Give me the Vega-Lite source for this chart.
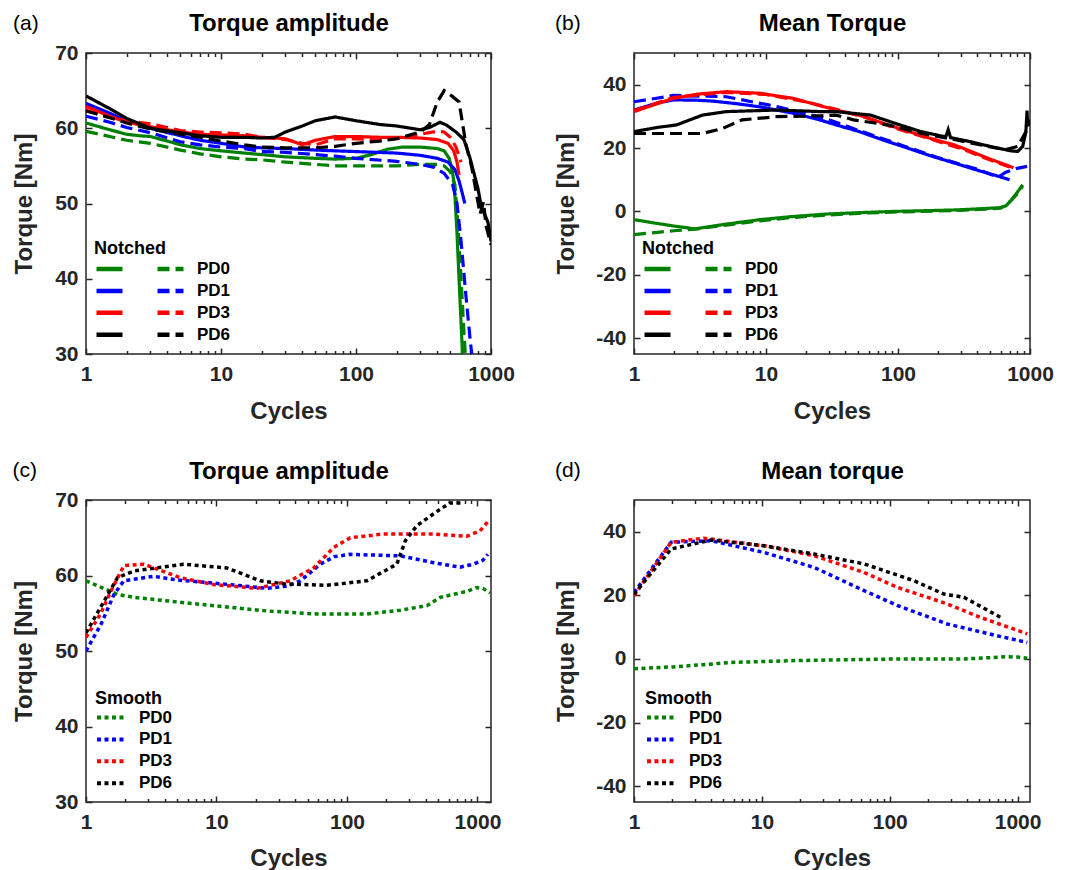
{
  "$schema": "https://vega.github.io/schema/vega-lite/v6.json",
  "padding": {"left": 11, "top": 10, "right": 0, "bottom": 0},
  "autosize": {"type": "pad"},
  "config": {
    "font": "Liberation Sans",
    "view": {"stroke": "#262626", "strokeWidth": 1.5},
    "axis": {"domain": false, "grid": false, "labelFont": "Liberation Sans", "labelFontSize": 21, "labelFontWeight": "bold", "labelColor": "#262626", "titleFont": "Liberation Sans", "titleFontSize": 24, "titleFontWeight": "bold", "titleColor": "#262626", "tickColor": "#262626", "tickWidth": 1.5, "labelOverlap": false, "labelFlush": false},
    "legend": {"labelFont": "Liberation Sans", "titleFont": "Liberation Sans", "labelFontSize": 17, "labelFontWeight": "bold", "titleFontSize": 18, "titleFontWeight": "bold", "labelColor": "black", "titleColor": "black", "padding": 0}
  },
  "bounds": "flush",
  "columns": 2,
  "spacing": {"row": 146, "column": 143},
  "resolve": {"scale": {"x": "independent", "y": "independent", "color": "independent", "strokeDash": "independent"}, "legend": {"color": "independent", "strokeDash": "independent"}, "axis": {"x": "independent", "y": "independent"}},
  "datasets": {
    "a": [
      {"s":"PD0 solid","x":1,"v":60.7},{"s":"PD0 solid","x":1.5,"v":59.8},{"s":"PD0 solid","x":2,"v":59.2},{"s":"PD0 solid","x":2.5,"v":59.0},{"s":"PD0 solid","x":3,"v":58.9},{"s":"PD0 solid","x":4,"v":58.3},{"s":"PD0 solid","x":5,"v":57.8},{"s":"PD0 solid","x":7,"v":57.3},{"s":"PD0 solid","x":10,"v":57.0},{"s":"PD0 solid","x":15,"v":56.7},{"s":"PD0 solid","x":20,"v":56.5},{"s":"PD0 solid","x":30,"v":56.2},{"s":"PD0 solid","x":50,"v":56.0},{"s":"PD0 solid","x":70,"v":55.9},{"s":"PD0 solid","x":100,"v":56.0},{"s":"PD0 solid","x":130,"v":56.5},{"s":"PD0 solid","x":170,"v":57.2},{"s":"PD0 solid","x":220,"v":57.5},{"s":"PD0 solid","x":300,"v":57.5},{"s":"PD0 solid","x":400,"v":57.3},{"s":"PD0 solid","x":450,"v":57.0},{"s":"PD0 solid","x":490,"v":56.0},{"s":"PD0 solid","x":515,"v":54.5},{"s":"PD0 solid","x":535,"v":52.5},{"s":"PD0 solid","x":560,"v":46},{"s":"PD0 solid","x":590,"v":37},{"s":"PD0 solid","x":615,"v":30},{"s":"PD0 solid","x":630,"v":27},
      {"s":"PD0 dashed","x":1,"v":59.6},{"s":"PD0 dashed","x":1.5,"v":58.9},{"s":"PD0 dashed","x":2,"v":58.4},{"s":"PD0 dashed","x":3,"v":58.0},{"s":"PD0 dashed","x":5,"v":57.1},{"s":"PD0 dashed","x":7,"v":56.6},{"s":"PD0 dashed","x":10,"v":56.2},{"s":"PD0 dashed","x":15,"v":55.9},{"s":"PD0 dashed","x":20,"v":55.8},{"s":"PD0 dashed","x":30,"v":55.5},{"s":"PD0 dashed","x":50,"v":55.2},{"s":"PD0 dashed","x":70,"v":55.0},{"s":"PD0 dashed","x":100,"v":55.0},{"s":"PD0 dashed","x":150,"v":55.0},{"s":"PD0 dashed","x":200,"v":55.0},{"s":"PD0 dashed","x":300,"v":55.2},{"s":"PD0 dashed","x":400,"v":55.2},{"s":"PD0 dashed","x":450,"v":55.0},{"s":"PD0 dashed","x":500,"v":54.2},{"s":"PD0 dashed","x":540,"v":52.5},{"s":"PD0 dashed","x":570,"v":47},{"s":"PD0 dashed","x":600,"v":40},{"s":"PD0 dashed","x":630,"v":33},{"s":"PD0 dashed","x":645,"v":30},{"s":"PD0 dashed","x":660,"v":27},
      {"s":"PD1 solid","x":1,"v":63.3},{"s":"PD1 solid","x":1.5,"v":62.0},{"s":"PD1 solid","x":2,"v":61.0},{"s":"PD1 solid","x":3,"v":60.0},{"s":"PD1 solid","x":5,"v":59.0},{"s":"PD1 solid","x":7,"v":58.4},{"s":"PD1 solid","x":10,"v":58.0},{"s":"PD1 solid","x":15,"v":57.5},{"s":"PD1 solid","x":20,"v":57.4},{"s":"PD1 solid","x":30,"v":57.3},{"s":"PD1 solid","x":50,"v":57.1},{"s":"PD1 solid","x":70,"v":57.0},{"s":"PD1 solid","x":100,"v":56.9},{"s":"PD1 solid","x":200,"v":56.7},{"s":"PD1 solid","x":300,"v":56.4},{"s":"PD1 solid","x":400,"v":56.0},{"s":"PD1 solid","x":480,"v":55.5},{"s":"PD1 solid","x":540,"v":54.5},{"s":"PD1 solid","x":580,"v":53.0},{"s":"PD1 solid","x":610,"v":51.5},{"s":"PD1 solid","x":640,"v":50.0},
      {"s":"PD1 dashed","x":1,"v":61.6},{"s":"PD1 dashed","x":1.5,"v":60.8},{"s":"PD1 dashed","x":2,"v":60.1},{"s":"PD1 dashed","x":3,"v":59.4},{"s":"PD1 dashed","x":5,"v":58.2},{"s":"PD1 dashed","x":7,"v":57.8},{"s":"PD1 dashed","x":10,"v":57.5},{"s":"PD1 dashed","x":15,"v":57.3},{"s":"PD1 dashed","x":20,"v":56.9},{"s":"PD1 dashed","x":30,"v":56.8},{"s":"PD1 dashed","x":50,"v":56.5},{"s":"PD1 dashed","x":70,"v":56.3},{"s":"PD1 dashed","x":100,"v":56.0},{"s":"PD1 dashed","x":200,"v":55.6},{"s":"PD1 dashed","x":300,"v":55.2},{"s":"PD1 dashed","x":380,"v":54.8},{"s":"PD1 dashed","x":450,"v":54.0},{"s":"PD1 dashed","x":520,"v":52.5},{"s":"PD1 dashed","x":560,"v":50},{"s":"PD1 dashed","x":600,"v":45},{"s":"PD1 dashed","x":650,"v":38},{"s":"PD1 dashed","x":700,"v":32},{"s":"PD1 dashed","x":730,"v":29},
      {"s":"PD3 solid","x":1,"v":62.9},{"s":"PD3 solid","x":1.5,"v":61.6},{"s":"PD3 solid","x":2,"v":60.8},{"s":"PD3 solid","x":3,"v":60.2},{"s":"PD3 solid","x":5,"v":59.5},{"s":"PD3 solid","x":7,"v":59.2},{"s":"PD3 solid","x":10,"v":59.1},{"s":"PD3 solid","x":15,"v":59.0},{"s":"PD3 solid","x":20,"v":58.8},{"s":"PD3 solid","x":25,"v":58.7},{"s":"PD3 solid","x":30,"v":58.6},{"s":"PD3 solid","x":40,"v":57.8},{"s":"PD3 solid","x":50,"v":58.4},{"s":"PD3 solid","x":70,"v":58.9},{"s":"PD3 solid","x":100,"v":58.9},{"s":"PD3 solid","x":150,"v":58.8},{"s":"PD3 solid","x":200,"v":58.8},{"s":"PD3 solid","x":300,"v":58.7},{"s":"PD3 solid","x":400,"v":58.5},{"s":"PD3 solid","x":480,"v":58.0},{"s":"PD3 solid","x":530,"v":57.0},{"s":"PD3 solid","x":560,"v":55.5},{"s":"PD3 solid","x":580,"v":53.8},
      {"s":"PD3 dashed","x":1,"v":62.4},{"s":"PD3 dashed","x":1.5,"v":61.5},{"s":"PD3 dashed","x":2,"v":61.0},{"s":"PD3 dashed","x":3,"v":60.6},{"s":"PD3 dashed","x":5,"v":59.7},{"s":"PD3 dashed","x":7,"v":59.5},{"s":"PD3 dashed","x":10,"v":59.4},{"s":"PD3 dashed","x":15,"v":59.2},{"s":"PD3 dashed","x":20,"v":58.8},{"s":"PD3 dashed","x":30,"v":58.5},{"s":"PD3 dashed","x":40,"v":58.0},{"s":"PD3 dashed","x":50,"v":57.8},{"s":"PD3 dashed","x":70,"v":58.6},{"s":"PD3 dashed","x":100,"v":58.6},{"s":"PD3 dashed","x":150,"v":58.4},{"s":"PD3 dashed","x":200,"v":58.6},{"s":"PD3 dashed","x":250,"v":58.9},{"s":"PD3 dashed","x":300,"v":59.2},{"s":"PD3 dashed","x":400,"v":59.6},{"s":"PD3 dashed","x":450,"v":59.5},{"s":"PD3 dashed","x":500,"v":58.8},{"s":"PD3 dashed","x":550,"v":57.5},{"s":"PD3 dashed","x":600,"v":55.5},
      {"s":"PD6 solid","x":1,"v":64.3},{"s":"PD6 solid","x":1.5,"v":62.6},{"s":"PD6 solid","x":2,"v":61.3},{"s":"PD6 solid","x":3,"v":60.0},{"s":"PD6 solid","x":5,"v":59.4},{"s":"PD6 solid","x":7,"v":59.0},{"s":"PD6 solid","x":10,"v":58.8},{"s":"PD6 solid","x":15,"v":58.8},{"s":"PD6 solid","x":20,"v":58.7},{"s":"PD6 solid","x":25,"v":58.8},{"s":"PD6 solid","x":30,"v":59.5},{"s":"PD6 solid","x":40,"v":60.3},{"s":"PD6 solid","x":50,"v":61.0},{"s":"PD6 solid","x":70,"v":61.5},{"s":"PD6 solid","x":100,"v":61.0},{"s":"PD6 solid","x":150,"v":60.5},{"s":"PD6 solid","x":200,"v":60.3},{"s":"PD6 solid","x":300,"v":59.8},{"s":"PD6 solid","x":350,"v":60.1},{"s":"PD6 solid","x":420,"v":60.8},{"s":"PD6 solid","x":470,"v":60.4},{"s":"PD6 solid","x":550,"v":59.5},{"s":"PD6 solid","x":630,"v":58.5},{"s":"PD6 solid","x":700,"v":56.0},{"s":"PD6 solid","x":800,"v":52.0},{"s":"PD6 solid","x":850,"v":49.5},{"s":"PD6 solid","x":900,"v":48.5},{"s":"PD6 solid","x":950,"v":47.5},{"s":"PD6 solid","x":1000,"v":45.0},
      {"s":"PD6 dashed","x":1,"v":62.3},{"s":"PD6 dashed","x":1.5,"v":61.4},{"s":"PD6 dashed","x":2,"v":60.7},{"s":"PD6 dashed","x":3,"v":59.9},{"s":"PD6 dashed","x":5,"v":59.2},{"s":"PD6 dashed","x":7,"v":58.8},{"s":"PD6 dashed","x":10,"v":58.3},{"s":"PD6 dashed","x":15,"v":57.8},{"s":"PD6 dashed","x":20,"v":57.5},{"s":"PD6 dashed","x":30,"v":57.4},{"s":"PD6 dashed","x":50,"v":57.4},{"s":"PD6 dashed","x":70,"v":57.6},{"s":"PD6 dashed","x":100,"v":58.0},{"s":"PD6 dashed","x":150,"v":58.3},{"s":"PD6 dashed","x":200,"v":58.6},{"s":"PD6 dashed","x":300,"v":59.5},{"s":"PD6 dashed","x":350,"v":60.5},{"s":"PD6 dashed","x":400,"v":63.5},{"s":"PD6 dashed","x":450,"v":65.0},{"s":"PD6 dashed","x":520,"v":64.2},{"s":"PD6 dashed","x":580,"v":63.5},{"s":"PD6 dashed","x":650,"v":58.0},{"s":"PD6 dashed","x":720,"v":54.8},{"s":"PD6 dashed","x":830,"v":48.6},{"s":"PD6 dashed","x":880,"v":50.2},{"s":"PD6 dashed","x":920,"v":47.0},{"s":"PD6 dashed","x":1000,"v":44.5}
    ],
    "b": [
      {"s":"PD0 solid","x":1,"v":-2.6},{"s":"PD0 solid","x":1.5,"v":-3.8},{"s":"PD0 solid","x":2,"v":-4.6},{"s":"PD0 solid","x":2.9,"v":-5.5},{"s":"PD0 solid","x":5,"v":-4.0},{"s":"PD0 solid","x":9,"v":-2.6},{"s":"PD0 solid","x":15,"v":-1.7},{"s":"PD0 solid","x":28,"v":-0.85},{"s":"PD0 solid","x":50,"v":-0.4},{"s":"PD0 solid","x":91,"v":0.0},{"s":"PD0 solid","x":150,"v":0.2},{"s":"PD0 solid","x":290,"v":0.5},{"s":"PD0 solid","x":450,"v":0.9},{"s":"PD0 solid","x":600,"v":1.2},{"s":"PD0 solid","x":660,"v":1.8},{"s":"PD0 solid","x":720,"v":3.5},{"s":"PD0 solid","x":800,"v":6.0},{"s":"PD0 solid","x":880,"v":8.4},
      {"s":"PD0 dashed","x":1,"v":-7.3},{"s":"PD0 dashed","x":1.5,"v":-6.6},{"s":"PD0 dashed","x":2,"v":-6.1},{"s":"PD0 dashed","x":2.9,"v":-5.6},{"s":"PD0 dashed","x":5,"v":-4.3},{"s":"PD0 dashed","x":9,"v":-3.0},{"s":"PD0 dashed","x":15,"v":-2.0},{"s":"PD0 dashed","x":28,"v":-1.2},{"s":"PD0 dashed","x":50,"v":-0.6},{"s":"PD0 dashed","x":91,"v":-0.2},{"s":"PD0 dashed","x":150,"v":0.0},{"s":"PD0 dashed","x":290,"v":0.3},{"s":"PD0 dashed","x":450,"v":0.7},{"s":"PD0 dashed","x":600,"v":1.0},{"s":"PD0 dashed","x":700,"v":3.0},{"s":"PD0 dashed","x":800,"v":5.5},{"s":"PD0 dashed","x":880,"v":8.0},
      {"s":"PD1 solid","x":1,"v":32.0},{"s":"PD1 solid","x":1.5,"v":34.2},{"s":"PD1 solid","x":2,"v":35.2},{"s":"PD1 solid","x":3,"v":35.1},{"s":"PD1 solid","x":4,"v":34.8},{"s":"PD1 solid","x":6,"v":34.0},{"s":"PD1 solid","x":9,"v":33.0},{"s":"PD1 solid","x":16,"v":31.0},{"s":"PD1 solid","x":25,"v":29.0},{"s":"PD1 solid","x":34,"v":27.3},{"s":"PD1 solid","x":50,"v":25.3},{"s":"PD1 solid","x":84,"v":22.0},{"s":"PD1 solid","x":100,"v":21.0},{"s":"PD1 solid","x":178,"v":17.5},{"s":"PD1 solid","x":266,"v":15.3},{"s":"PD1 solid","x":400,"v":13.0},{"s":"PD1 solid","x":535,"v":11.5},{"s":"PD1 solid","x":700,"v":10.0},
      {"s":"PD1 dashed","x":1,"v":34.6},{"s":"PD1 dashed","x":2,"v":36.6},{"s":"PD1 dashed","x":5,"v":36.2},{"s":"PD1 dashed","x":12,"v":33.1},{"s":"PD1 dashed","x":28,"v":29.4},{"s":"PD1 dashed","x":50,"v":25.6},{"s":"PD1 dashed","x":100,"v":21.3},{"s":"PD1 dashed","x":200,"v":17.0},{"s":"PD1 dashed","x":400,"v":13.3},{"s":"PD1 dashed","x":560,"v":11.0},{"s":"PD1 dashed","x":600,"v":11.3},{"s":"PD1 dashed","x":650,"v":12.3},{"s":"PD1 dashed","x":800,"v":13.6},{"s":"PD1 dashed","x":950,"v":14.2},
      {"s":"PD3 solid","x":1,"v":31.5},{"s":"PD3 solid","x":1.5,"v":34.0},{"s":"PD3 solid","x":2,"v":35.7},{"s":"PD3 solid","x":3,"v":37.0},{"s":"PD3 solid","x":5,"v":37.8},{"s":"PD3 solid","x":9,"v":37.3},{"s":"PD3 solid","x":16,"v":35.7},{"s":"PD3 solid","x":34,"v":32.0},{"s":"PD3 solid","x":56,"v":29.9},{"s":"PD3 solid","x":84,"v":27.3},{"s":"PD3 solid","x":100,"v":26.3},{"s":"PD3 solid","x":178,"v":23.0},{"s":"PD3 solid","x":266,"v":21.0},{"s":"PD3 solid","x":317,"v":19.8},{"s":"PD3 solid","x":500,"v":16.5},{"s":"PD3 solid","x":750,"v":13.8},
      {"s":"PD3 dashed","x":1,"v":31.8},{"s":"PD3 dashed","x":2,"v":36.0},{"s":"PD3 dashed","x":5,"v":37.6},{"s":"PD3 dashed","x":10,"v":36.9},{"s":"PD3 dashed","x":20,"v":34.6},{"s":"PD3 dashed","x":34,"v":32.2},{"s":"PD3 dashed","x":56,"v":29.7},{"s":"PD3 dashed","x":100,"v":26.0},{"s":"PD3 dashed","x":178,"v":22.8},{"s":"PD3 dashed","x":317,"v":19.5},{"s":"PD3 dashed","x":500,"v":16.2},{"s":"PD3 dashed","x":700,"v":14.0},
      {"s":"PD6 solid","x":1,"v":25.2},{"s":"PD6 solid","x":1.5,"v":26.5},{"s":"PD6 solid","x":2.1,"v":27.3},{"s":"PD6 solid","x":3.3,"v":30.4},{"s":"PD6 solid","x":5,"v":31.5},{"s":"PD6 solid","x":12,"v":32.0},{"s":"PD6 solid","x":26,"v":31.5},{"s":"PD6 solid","x":34,"v":31.5},{"s":"PD6 solid","x":62,"v":30.4},{"s":"PD6 solid","x":100,"v":27.5},{"s":"PD6 solid","x":149,"v":25.2},{"s":"PD6 solid","x":230,"v":23.5},{"s":"PD6 solid","x":240,"v":25.8},{"s":"PD6 solid","x":250,"v":23.3},{"s":"PD6 solid","x":355,"v":22.0},{"s":"PD6 solid","x":500,"v":20.5},{"s":"PD6 solid","x":700,"v":19.2},{"s":"PD6 solid","x":805,"v":18.9},{"s":"PD6 solid","x":880,"v":20.5},{"s":"PD6 solid","x":930,"v":25.0},{"s":"PD6 solid","x":950,"v":31.8},{"s":"PD6 solid","x":960,"v":27.0},{"s":"PD6 solid","x":1000,"v":29.0},
      {"s":"PD6 dashed","x":1,"v":24.6},{"s":"PD6 dashed","x":2,"v":24.6},{"s":"PD6 dashed","x":3.3,"v":24.6},{"s":"PD6 dashed","x":4.7,"v":26.2},{"s":"PD6 dashed","x":6.6,"v":28.9},{"s":"PD6 dashed","x":12,"v":29.9},{"s":"PD6 dashed","x":26,"v":30.2},{"s":"PD6 dashed","x":34,"v":30.4},{"s":"PD6 dashed","x":46,"v":28.9},{"s":"PD6 dashed","x":84,"v":27.3},{"s":"PD6 dashed","x":149,"v":24.7},{"s":"PD6 dashed","x":266,"v":22.7},{"s":"PD6 dashed","x":480,"v":20.5},{"s":"PD6 dashed","x":650,"v":19.5},{"s":"PD6 dashed","x":807,"v":20.5},{"s":"PD6 dashed","x":960,"v":26.2},{"s":"PD6 dashed","x":1000,"v":28.5}
    ],
    "c": [
      {"s":"PD0","x":1,"v":59.3},{"s":"PD0","x":1.74,"v":57.5},{"s":"PD0","x":2.33,"v":57.1},{"s":"PD0","x":5,"v":56.5},{"s":"PD0","x":9.5,"v":56.0},{"s":"PD0","x":24.5,"v":55.3},{"s":"PD0","x":59,"v":54.9},{"s":"PD0","x":142,"v":54.9},{"s":"PD0","x":256,"v":55.4},{"s":"PD0","x":410,"v":56.0},{"s":"PD0","x":517,"v":57.1},{"s":"PD0","x":830,"v":57.9},{"s":"PD0","x":985,"v":58.4},{"s":"PD0","x":1100,"v":58.3},{"s":"PD0","x":1250,"v":57.7},
      {"s":"PD1","x":1,"v":50.0},{"s":"PD1","x":1.3,"v":53.5},{"s":"PD1","x":1.64,"v":57.5},{"s":"PD1","x":1.95,"v":59.3},{"s":"PD1","x":3.3,"v":59.9},{"s":"PD1","x":5,"v":59.4},{"s":"PD1","x":9.5,"v":59.0},{"s":"PD1","x":24.5,"v":58.3},{"s":"PD1","x":35,"v":58.6},{"s":"PD1","x":44,"v":59.3},{"s":"PD1","x":62.5,"v":61.5},{"s":"PD1","x":80,"v":62.5},{"s":"PD1","x":106,"v":62.8},{"s":"PD1","x":256,"v":62.6},{"s":"PD1","x":460,"v":61.7},{"s":"PD1","x":735,"v":61.1},{"s":"PD1","x":930,"v":61.5},{"s":"PD1","x":1100,"v":62.0},{"s":"PD1","x":1200,"v":62.8},
      {"s":"PD3","x":1,"v":51.8},{"s":"PD3","x":1.3,"v":55.0},{"s":"PD3","x":1.55,"v":57.9},{"s":"PD3","x":1.95,"v":61.3},{"s":"PD3","x":2.78,"v":61.5},{"s":"PD3","x":5.3,"v":59.7},{"s":"PD3","x":9.5,"v":58.8},{"s":"PD3","x":20.5,"v":58.3},{"s":"PD3","x":36.7,"v":59.3},{"s":"PD3","x":55.6,"v":61.0},{"s":"PD3","x":79,"v":63.7},{"s":"PD3","x":106,"v":65.0},{"s":"PD3","x":190,"v":65.5},{"s":"PD3","x":460,"v":65.5},{"s":"PD3","x":830,"v":65.2},{"s":"PD3","x":1045,"v":65.9},{"s":"PD3","x":1210,"v":67.2},
      {"s":"PD6","x":1,"v":52.4},{"s":"PD6","x":1.74,"v":59.7},{"s":"PD6","x":2.33,"v":60.6},{"s":"PD6","x":5.6,"v":61.5},{"s":"PD6","x":12,"v":61.0},{"s":"PD6","x":21.7,"v":59.3},{"s":"PD6","x":32.7,"v":58.9},{"s":"PD6","x":70,"v":58.7},{"s":"PD6","x":142,"v":59.3},{"s":"PD6","x":241,"v":61.5},{"s":"PD6","x":280,"v":64.6},{"s":"PD6","x":343,"v":66.6},{"s":"PD6","x":490,"v":68.5},{"s":"PD6","x":615,"v":69.6},{"s":"PD6","x":780,"v":69.6}
    ],
    "d": [
      {"s":"PD0","x":1,"v":-3.1},{"s":"PD0","x":2,"v":-2.5},{"s":"PD0","x":3.5,"v":-1.8},{"s":"PD0","x":5.7,"v":-1.1},{"s":"PD0","x":19,"v":-0.5},{"s":"PD0","x":115,"v":0.0},{"s":"PD0","x":380,"v":0.0},{"s":"PD0","x":600,"v":0.4},{"s":"PD0","x":830,"v":0.7},{"s":"PD0","x":1000,"v":0.6},{"s":"PD0","x":1190,"v":0.2},
      {"s":"PD1","x":1,"v":20.9},{"s":"PD1","x":1.95,"v":36.7},{"s":"PD1","x":4,"v":37.2},{"s":"PD1","x":10.4,"v":33.5},{"s":"PD1","x":25.6,"v":28.8},{"s":"PD1","x":63,"v":21.5},{"s":"PD1","x":115,"v":16.8},{"s":"PD1","x":282,"v":11.0},{"s":"PD1","x":690,"v":7.3},{"s":"PD1","x":1190,"v":5.2},
      {"s":"PD3","x":1,"v":19.9},{"s":"PD3","x":1.95,"v":36.7},{"s":"PD3","x":3.5,"v":38.0},{"s":"PD3","x":10.4,"v":35.6},{"s":"PD3","x":25.6,"v":32.5},{"s":"PD3","x":63,"v":27.2},{"s":"PD3","x":115,"v":22.5},{"s":"PD3","x":282,"v":17.3},{"s":"PD3","x":510,"v":13.1},{"s":"PD3","x":1190,"v":7.9},
      {"s":"PD6","x":1,"v":20.4},{"s":"PD6","x":1.95,"v":34.6},{"s":"PD6","x":4,"v":37.4},{"s":"PD6","x":10.4,"v":35.6},{"s":"PD6","x":25.6,"v":33.0},{"s":"PD6","x":63,"v":29.9},{"s":"PD6","x":155,"v":24.6},{"s":"PD6","x":265,"v":20.4},{"s":"PD6","x":380,"v":19.4},{"s":"PD6","x":735,"v":13.1}
    ]
  },
  "concat": [
    {
      "width": 405, "height": 301,
      "data": {"name": "a"},
      "layer": [
        {
          "mark": {"type": "line", "strokeWidth": 3.2, "clip": true},
          "encoding": {
            "x": {"field": "x", "type": "quantitative", "scale": {"type": "log", "domain": [1, 1000]},
              "axis": {"orient": "bottom", "values": [1,2,3,4,5,6,7,8,9,10,20,30,40,50,60,70,80,90,100,200,300,400,500,600,700,800,900,1000], "labelExpr": "indexof([1,10,100,1000], datum.value) >= 0 ? format(datum.value, 'd') : ''", "labelDx": 3, "labelPadding": 15, "tickSize": {"condition": {"test": "indexof([1,10,100,1000], datum.value) >= 0", "value": -6}, "value": -3.5}, "title": "Cycles", "titleX": 202.5, "titleY": 64, "titleAlign": "center", "titleBaseline": "alphabetic"}},
            "y": {"field": "v", "type": "quantitative", "scale": {"domain": [30, 70]},
              "axis": {"orient": "left", "values": [30,40,50,60,70], "tickSize": -6, "labelPadding": 14, "title": "Torque [Nm]", "titleX": -55, "titleY": 150.5, "titleAngle": 270, "titleAlign": "center", "titleBaseline": "alphabetic"}},
            "color": {"field": "s", "type": "nominal", "scale": {"domain": ["PD0 solid","PD1 solid","PD3 solid","PD6 solid","PD0 dashed","PD1 dashed","PD3 dashed","PD6 dashed"], "range": ["#008000","#0000ff","#ff0000","#000000","#008000","#0000ff","#ff0000","#000000"]},
              "legend": {"title": "Notched", "orient": "none", "legendX": 8, "legendY": 187, "columns": 2, "symbolType": "stroke", "symbolSize": 676, "symbolStrokeWidth": 4.5, "labelOffset": 11, "columnPadding": 19, "clipHeight": 21, "rowPadding": 0.9, "titlePadding": 0.5, "labelExpr": "indexof(datum.label, 'dashed') >= 0 ? split(datum.label, ' ')[0] : ''"}},
            "strokeDash": {"field": "s", "type": "nominal", "scale": {"domain": ["PD0 solid","PD1 solid","PD3 solid","PD6 solid","PD0 dashed","PD1 dashed","PD3 dashed","PD6 dashed"], "range": [[1,0],[1,0],[1,0],[1,0],[12,6],[12,6],[12,6],[12,6]]},
              "legend": {"title": "Notched", "orient": "none", "legendX": 8, "legendY": 187, "columns": 2, "symbolType": "stroke", "symbolSize": 676, "symbolStrokeWidth": 4.5, "labelOffset": 11, "columnPadding": 19, "clipHeight": 21, "rowPadding": 0.9, "titlePadding": 0.5, "labelExpr": "indexof(datum.label, 'dashed') >= 0 ? split(datum.label, ' ')[0] : ''"}}
          }
        },
        {
          "mark": {"type": "point", "opacity": 0},
          "encoding": {
            "x": {"field": "x", "type": "quantitative", "scale": {"type": "log", "domain": [1, 1000]},
              "axis": {"orient": "top", "values": [1,2,3,4,5,6,7,8,9,10,20,30,40,50,60,70,80,90,100,200,300,400,500,600,700,800,900,1000], "labels": false, "tickSize": {"condition": {"test": "indexof([1,10,100,1000], datum.value) >= 0", "value": -6}, "value": -3.5}, "title": "Torque amplitude", "titleColor": "black", "titleX": 202.5, "titleY": -23, "titleAlign": "center", "titleBaseline": "alphabetic"}},
            "y": {"field": "v", "type": "quantitative", "scale": {"domain": [30, 70]},
              "axis": {"orient": "right", "values": [30,40,50,60,70], "labels": false, "tickSize": -6, "title": "(a)", "titleColor": "black", "titleFontWeight": "normal", "titleFontSize": 21, "titleAngle": 0, "titleX": -478.5, "titleY": -24, "titleAlign": "left", "titleBaseline": "alphabetic"}}
          }
        }
      ],
      "resolve": {"axis": {"x": "independent", "y": "independent"}}
    },
    {
      "width": 396, "height": 301,
      "data": {"name": "b"},
      "layer": [
        {
          "mark": {"type": "line", "strokeWidth": 3.2, "clip": true},
          "encoding": {
            "x": {"field": "x", "type": "quantitative", "scale": {"type": "log", "domain": [1, 1000]},
              "axis": {"orient": "bottom", "values": [1,2,3,4,5,6,7,8,9,10,20,30,40,50,60,70,80,90,100,200,300,400,500,600,700,800,900,1000], "labelExpr": "indexof([1,10,100,1000], datum.value) >= 0 ? format(datum.value, 'd') : ''", "labelDx": 3, "labelPadding": 15, "tickSize": {"condition": {"test": "indexof([1,10,100,1000], datum.value) >= 0", "value": -6}, "value": -3.5}, "title": "Cycles", "titleX": 198, "titleY": 64, "titleAlign": "center", "titleBaseline": "alphabetic"}},
            "y": {"field": "v", "type": "quantitative", "scale": {"domain": [-45, 50]},
              "axis": {"orient": "left", "values": [-40,-20,0,20,40], "labelExpr": "datum.value < 0 ? '-' + format(-datum.value, 'd') : format(datum.value, 'd')", "tickSize": -6, "labelPadding": 14, "title": "Torque [Nm]", "titleX": -61, "titleY": 150.5, "titleAngle": 270, "titleAlign": "center", "titleBaseline": "alphabetic"}},
            "color": {"field": "s", "type": "nominal", "scale": {"domain": ["PD0 solid","PD1 solid","PD3 solid","PD6 solid","PD0 dashed","PD1 dashed","PD3 dashed","PD6 dashed"], "range": ["#008000","#0000ff","#ff0000","#000000","#008000","#0000ff","#ff0000","#000000"]},
              "legend": {"title": "Notched", "orient": "none", "legendX": 8, "legendY": 187, "columns": 2, "symbolType": "stroke", "symbolSize": 676, "symbolStrokeWidth": 4.5, "labelOffset": 11, "columnPadding": 19, "clipHeight": 21, "rowPadding": 0.9, "titlePadding": 0.5, "labelExpr": "indexof(datum.label, 'dashed') >= 0 ? split(datum.label, ' ')[0] : ''"}},
            "strokeDash": {"field": "s", "type": "nominal", "scale": {"domain": ["PD0 solid","PD1 solid","PD3 solid","PD6 solid","PD0 dashed","PD1 dashed","PD3 dashed","PD6 dashed"], "range": [[1,0],[1,0],[1,0],[1,0],[12,6],[12,6],[12,6],[12,6]]},
              "legend": {"title": "Notched", "orient": "none", "legendX": 8, "legendY": 187, "columns": 2, "symbolType": "stroke", "symbolSize": 676, "symbolStrokeWidth": 4.5, "labelOffset": 11, "columnPadding": 19, "clipHeight": 21, "rowPadding": 0.9, "titlePadding": 0.5, "labelExpr": "indexof(datum.label, 'dashed') >= 0 ? split(datum.label, ' ')[0] : ''"}}
          }
        },
        {
          "mark": {"type": "point", "opacity": 0},
          "encoding": {
            "x": {"field": "x", "type": "quantitative", "scale": {"type": "log", "domain": [1, 1000]},
              "axis": {"orient": "top", "values": [1,2,3,4,5,6,7,8,9,10,20,30,40,50,60,70,80,90,100,200,300,400,500,600,700,800,900,1000], "labels": false, "tickSize": {"condition": {"test": "indexof([1,10,100,1000], datum.value) >= 0", "value": -6}, "value": -3.5}, "title": "Mean Torque", "titleColor": "black", "titleX": 198, "titleY": -23, "titleAlign": "center", "titleBaseline": "alphabetic"}},
            "y": {"field": "v", "type": "quantitative", "scale": {"domain": [-45, 50]},
              "axis": {"orient": "right", "values": [-40,-20,0,20,40], "labels": false, "tickSize": -6, "title": "(b)", "titleColor": "black", "titleFontWeight": "normal", "titleFontSize": 21, "titleAngle": 0, "titleX": -475.5, "titleY": -24, "titleAlign": "left", "titleBaseline": "alphabetic"}}
          }
        }
      ],
      "resolve": {"axis": {"x": "independent", "y": "independent"}}
    },
    {
      "width": 405, "height": 302,
      "data": {"name": "c"},
      "layer": [
        {
          "mark": {"type": "line", "strokeWidth": 3.5, "strokeDash": [4, 3.5], "clip": true},
          "encoding": {
            "x": {"field": "x", "type": "quantitative", "scale": {"type": "log", "domain": [1, 1270]},
              "axis": {"orient": "bottom", "values": [1,2,3,4,5,6,7,8,9,10,20,30,40,50,60,70,80,90,100,200,300,400,500,600,700,800,900,1000], "labelExpr": "indexof([1,10,100,1000], datum.value) >= 0 ? format(datum.value, 'd') : ''", "labelDx": 1, "labelPadding": 15, "tickSize": {"condition": {"test": "indexof([1,10,100,1000], datum.value) >= 0", "value": -6}, "value": -3.5}, "title": "Cycles", "titleX": 202.5, "titleY": 63, "titleAlign": "center", "titleBaseline": "alphabetic"}},
            "y": {"field": "v", "type": "quantitative", "scale": {"domain": [30, 70]},
              "axis": {"orient": "left", "values": [30,40,50,60,70], "tickSize": -6, "labelPadding": 14, "title": "Torque [Nm]", "titleX": -55, "titleY": 151, "titleAngle": 270, "titleAlign": "center", "titleBaseline": "alphabetic"}},
            "color": {"field": "s", "type": "nominal", "scale": {"domain": ["PD0","PD1","PD3","PD6"], "range": ["#008000","#0000ff","#ff0000","#000000"]},
              "legend": {"title": "Smooth", "orient": "none", "legendX": 9, "legendY": 190, "symbolType": "stroke", "symbolSize": 841, "symbolStrokeWidth": 4, "symbolDash": [4, 3.5], "labelOffset": 11, "clipHeight": 21, "rowPadding": 0.9, "titlePadding": -1}}
          }
        },
        {
          "mark": {"type": "point", "opacity": 0},
          "encoding": {
            "x": {"field": "x", "type": "quantitative", "scale": {"type": "log", "domain": [1, 1270]},
              "axis": {"orient": "top", "values": [1,2,3,4,5,6,7,8,9,10,20,30,40,50,60,70,80,90,100,200,300,400,500,600,700,800,900,1000], "labels": false, "tickSize": {"condition": {"test": "indexof([1,10,100,1000], datum.value) >= 0", "value": -6}, "value": -3.5}, "title": "Torque amplitude", "titleColor": "black", "titleX": 202.5, "titleY": -22, "titleAlign": "center", "titleBaseline": "alphabetic"}},
            "y": {"field": "v", "type": "quantitative", "scale": {"domain": [30, 70]},
              "axis": {"orient": "right", "values": [30,40,50,60,70], "labels": false, "tickSize": -6, "title": "(c)", "titleColor": "black", "titleFontWeight": "normal", "titleFontSize": 21, "titleAngle": 0, "titleX": -479, "titleY": -23.5, "titleAlign": "left", "titleBaseline": "alphabetic"}}
          }
        }
      ],
      "resolve": {"axis": {"x": "independent", "y": "independent"}}
    },
    {
      "width": 396, "height": 302,
      "data": {"name": "d"},
      "layer": [
        {
          "mark": {"type": "line", "strokeWidth": 3.5, "strokeDash": [4, 3.5], "clip": true},
          "encoding": {
            "x": {"field": "x", "type": "quantitative", "scale": {"type": "log", "domain": [1, 1250]},
              "axis": {"orient": "bottom", "values": [1,2,3,4,5,6,7,8,9,10,20,30,40,50,60,70,80,90,100,200,300,400,500,600,700,800,900,1000], "labelExpr": "indexof([1,10,100,1000], datum.value) >= 0 ? format(datum.value, 'd') : ''", "labelDx": 1, "labelPadding": 15, "tickSize": {"condition": {"test": "indexof([1,10,100,1000], datum.value) >= 0", "value": -6}, "value": -3.5}, "title": "Cycles", "titleX": 198, "titleY": 63, "titleAlign": "center", "titleBaseline": "alphabetic"}},
            "y": {"field": "v", "type": "quantitative", "scale": {"domain": [-45, 50]},
              "axis": {"orient": "left", "values": [-40,-20,0,20,40], "labelExpr": "datum.value < 0 ? '-' + format(-datum.value, 'd') : format(datum.value, 'd')", "tickSize": -6, "labelPadding": 14, "title": "Torque [Nm]", "titleX": -61, "titleY": 151, "titleAngle": 270, "titleAlign": "center", "titleBaseline": "alphabetic"}},
            "color": {"field": "s", "type": "nominal", "scale": {"domain": ["PD0","PD1","PD3","PD6"], "range": ["#008000","#0000ff","#ff0000","#000000"]},
              "legend": {"title": "Smooth", "orient": "none", "legendX": 11, "legendY": 190, "symbolType": "stroke", "symbolSize": 841, "symbolStrokeWidth": 4, "symbolDash": [4, 3.5], "labelOffset": 11, "clipHeight": 21, "rowPadding": 0.9, "titlePadding": -1}}
          }
        },
        {
          "mark": {"type": "point", "opacity": 0},
          "encoding": {
            "x": {"field": "x", "type": "quantitative", "scale": {"type": "log", "domain": [1, 1250]},
              "axis": {"orient": "top", "values": [1,2,3,4,5,6,7,8,9,10,20,30,40,50,60,70,80,90,100,200,300,400,500,600,700,800,900,1000], "labels": false, "tickSize": {"condition": {"test": "indexof([1,10,100,1000], datum.value) >= 0", "value": -6}, "value": -3.5}, "title": "Mean torque", "titleColor": "black", "titleX": 198, "titleY": -22, "titleAlign": "center", "titleBaseline": "alphabetic"}},
            "y": {"field": "v", "type": "quantitative", "scale": {"domain": [-45, 50]},
              "axis": {"orient": "right", "values": [-40,-20,0,20,40], "labels": false, "tickSize": -6, "title": "(d)", "titleColor": "black", "titleFontWeight": "normal", "titleFontSize": 21, "titleAngle": 0, "titleX": -475.5, "titleY": -23.5, "titleAlign": "left", "titleBaseline": "alphabetic"}}
          }
        }
      ],
      "resolve": {"axis": {"x": "independent", "y": "independent"}}
    }
  ]
}
